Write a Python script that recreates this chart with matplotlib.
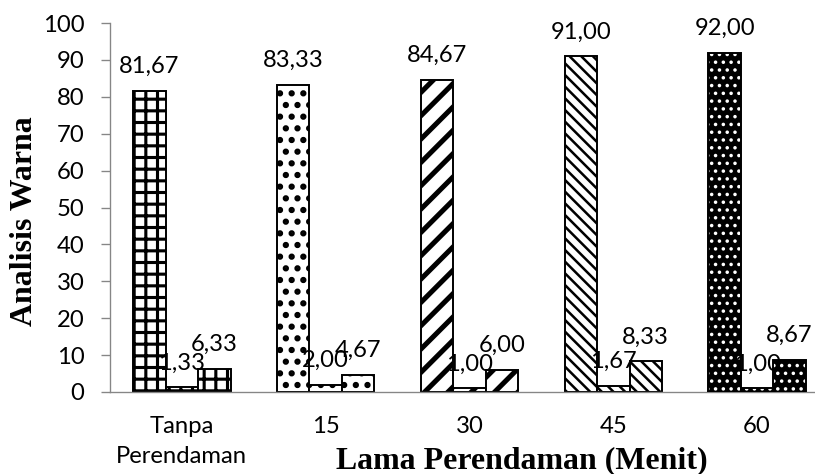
import matplotlib
matplotlib.use("Agg")
import matplotlib.pyplot as plt
import numpy as np

# data
categories = ["Tanpa\nPerendaman", "15", "30", "45", "60"]
nilai_L = [81.67, 83.33, 84.67, 91.00, 92.00]
nilai_a = [1.33, 2.00, 1.00, 1.67, 1.00]
nilai_b = [6.33, 4.67, 6.00, 8.33, 8.67]

# one hatch per category (all three bars in a group share it)
hatches = ["++", "..", "//", "\\\\\\\\", "..."]
hatch_lw = [1.6, 2.0, 2.6, 1.3, 1.0]
inverted = [False, False, False, False, True]

plt.rcParams['font.family'] = ['Lato', 'DejaVu Sans']

dpi = 140
fig = plt.figure(figsize=(815 / dpi, 474 / dpi), dpi=dpi)
ax = fig.add_axes([110 / 815, (474 - 392) / 474, 719 / 815, 369 / 474])

x = np.arange(len(categories))
w = 0.226
gray = '#868686'

for i in range(len(categories)):
    vals = [nilai_L[i], nilai_a[i], nilai_b[i]]
    pos = [x[i] - w, x[i], x[i] + w]
    plt.rcParams['hatch.linewidth'] = hatch_lw[i]
    if inverted[i]:
        bars = ax.bar(pos, vals, width=w, color='black', edgecolor='white',
                      linewidth=0, hatch=hatches[i], zorder=2)
        ax.bar(pos, vals, width=w, fill=False, edgecolor='black',
               linewidth=1.0, zorder=3)
    else:
        bars = ax.bar(pos, vals, width=w, color='white', edgecolor='black',
                      linewidth=1.0, hatch=hatches[i], zorder=2)
    for b in bars:
        if hasattr(b, 'set_hatch_linewidth'):
            b.set_hatch_linewidth(hatch_lw[i])
    for p, v in zip(pos, vals):
        ax.annotate(f"{v:.2f}".replace('.', ','), xy=(p, v), xytext=(0, 9.1),
                    textcoords='offset points', ha='center', va='baseline',
                    fontsize=12.2, color='black', zorder=4)

ax.set_xlim(-0.5, len(categories) - 0.5)
ax.set_ylim(0, 100)
ax.set_yticks(np.arange(0, 101, 10))
ax.set_xticks(x)
ax.set_xticklabels(categories, linespacing=1.5)
ax.tick_params(axis='x', length=0, pad=12.5, labelsize=12.3)
ax.tick_params(axis='y', length=4.6, width=0.7, color=gray, pad=8.5,
               labelsize=12.3, direction='out')
for s in ['top', 'right']:
    ax.spines[s].set_visible(False)
for s in ['left', 'bottom']:
    ax.spines[s].set_color(gray)
    ax.spines[s].set_linewidth(0.7)

fig.text(521.5 / 815, 6 / 474, "Lama Perendaman (Menit)", ha='center', va='baseline',
         fontsize=16.4, fontweight='bold', family='Liberation Serif')
fig.text(25 / 815, 253 / 474, "Analisis Warna", ha='center', va='center', rotation=90,
         fontsize=16.4, fontweight='bold', family='Liberation Serif')

fig.savefig("out.png", dpi=dpi)
